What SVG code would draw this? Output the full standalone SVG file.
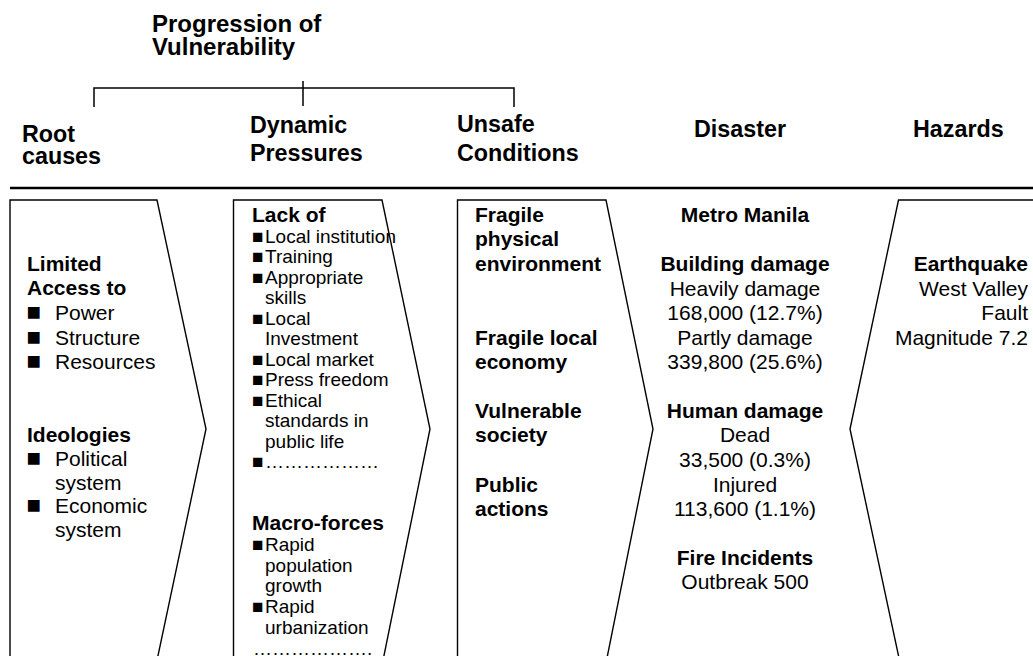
<svg xmlns="http://www.w3.org/2000/svg" width="1033" height="656" viewBox="0 0 1033 656">
<style>
  text { font-family: "Liberation Sans", Arial, sans-serif; fill: #000; }
  .title { font-size: 24px; font-weight: bold; }
  .hdr { font-size: 23.3px; font-weight: bold; }
  .b { font-size: 21px; font-weight: bold; }
  .r { font-size: 21px; }
  .s { font-size: 19px; }
  .sb { font-size: 21px; font-weight: bold; }
  .bul1 { font-size: 24px; }
  .shape { fill: #fff; stroke: #000; stroke-width: 1.4; stroke-linejoin: miter; }
  .line { fill: none; stroke: #000; stroke-width: 1.5; }
  .c { text-anchor: middle; }
  .e { text-anchor: end; }
</style>

<rect width="1033" height="656" fill="#fff"/>

<g id="title">
  <text class="title" x="152" y="32">Progression of</text>
  <text class="title" x="152" y="55">Vulnerability</text>
</g>

<g id="connectors">
  <path class="line" d="M94,107 V88 H514 V107"/>
  <path class="line" d="M303,81 V106"/>
  <path d="M10,188 H1033" fill="none" stroke="#000" stroke-width="2.5"/>
</g>

<g id="headers">
  <text class="hdr" x="22" y="141.5">Root</text>
  <text class="hdr" x="22" y="164">causes</text>
  <text class="hdr" x="250" y="133">Dynamic</text>
  <text class="hdr" x="250" y="161">Pressures</text>
  <text class="hdr" x="457" y="132">Unsafe</text>
  <text class="hdr" x="457" y="161">Conditions</text>
  <text class="hdr" x="694" y="137">Disaster</text>
  <text class="hdr" x="913" y="137">Hazards</text>
</g>

<g id="root-causes">
  <polygon class="shape" points="10,200 157,200 206,429 157.5,658 10,658"/>
  <text class="b" x="27" y="271">Limited</text>
  <text class="b" x="27" y="295">Access to</text>
  <text class="r" y="320"><tspan class="bul1" x="26.5">■</tspan><tspan x="55">Power</tspan></text>
  <text class="r" y="344.5"><tspan class="bul1" x="26.5">■</tspan><tspan x="55">Structure</tspan></text>
  <text class="r" y="369"><tspan class="bul1" x="26.5">■</tspan><tspan x="55">Resources</tspan></text>
  <text class="b" x="27" y="442">Ideologies</text>
  <text class="r" y="466"><tspan class="bul1" x="26.5">■</tspan><tspan x="55">Political</tspan></text>
  <text class="r" x="55" y="489.5">system</text>
  <text class="r" y="513"><tspan class="bul1" x="26.5">■</tspan><tspan x="55">Economic</tspan></text>
  <text class="r" x="55" y="536.5">system</text>
</g>

<g id="dynamic-pressures">
  <polygon class="shape" points="233.5,200 382,200 430,429 383.5,658 233.5,658"/>
  <text class="sb" x="252" y="222">Lack of</text>
  <text class="s" y="242.5"><tspan x="252">■</tspan><tspan x="265">Local institution</tspan></text>
  <text class="s" y="263"><tspan x="252">■</tspan><tspan x="265">Training</tspan></text>
  <text class="s" y="283.5"><tspan x="252">■</tspan><tspan x="265">Appropriate</tspan></text>
  <text class="s" x="265" y="304">skills</text>
  <text class="s" y="324.5"><tspan x="252">■</tspan><tspan x="265">Local</tspan></text>
  <text class="s" x="265" y="345">Investment</text>
  <text class="s" y="365.5"><tspan x="252">■</tspan><tspan x="265">Local market</tspan></text>
  <text class="s" y="386"><tspan x="252">■</tspan><tspan x="265">Press freedom</tspan></text>
  <text class="s" y="406.5"><tspan x="252">■</tspan><tspan x="265">Ethical</tspan></text>
  <text class="s" x="265" y="427">standards in</text>
  <text class="s" x="265" y="447.5">public life</text>
  <text class="s" y="468"><tspan x="252">■</tspan><tspan x="265">………………</tspan></text>
  <text class="sb" x="252" y="530">Macro-forces</text>
  <text class="s" y="551"><tspan x="252">■</tspan><tspan x="265">Rapid</tspan></text>
  <text class="s" x="265" y="571.5">population</text>
  <text class="s" x="265" y="592">growth</text>
  <text class="s" y="613"><tspan x="252">■</tspan><tspan x="265">Rapid</tspan></text>
  <text class="s" x="265" y="634">urbanization</text>
  <text class="s" x="253" y="654.5">……………….</text>
</g>

<g id="unsafe-conditions">
  <polygon class="shape" points="457.5,200 606,200 653,429 607,658 457.5,658"/>
  <text class="b" x="475" y="221.5">Fragile</text>
  <text class="b" x="475" y="246">physical</text>
  <text class="b" x="475" y="270.5">environment</text>
  <text class="b" x="475" y="345">Fragile local</text>
  <text class="b" x="475" y="369">economy</text>
  <text class="b" x="475" y="418">Vulnerable</text>
  <text class="b" x="475" y="442">society</text>
  <text class="b" x="475" y="492">Public</text>
  <text class="b" x="475" y="516">actions</text>
</g>

<g id="disaster">
  <text class="b c" x="745" y="221.5">Metro Manila</text>
  <text class="b c" x="745" y="271">Building damage</text>
  <text class="r c" x="745" y="296">Heavily damage</text>
  <text class="r c" x="745" y="320">168,000 (12.7%)</text>
  <text class="r c" x="745" y="345">Partly damage</text>
  <text class="r c" x="745" y="369">339,800 (25.6%)</text>
  <text class="b c" x="745" y="417.5">Human damage</text>
  <text class="r c" x="745" y="442">Dead</text>
  <text class="r c" x="745" y="466.5">33,500 (0.3%)</text>
  <text class="r c" x="745" y="491.5">Injured</text>
  <text class="r c" x="745" y="515.5">113,600 (1.1%)</text>
  <text class="b c" x="745" y="565">Fire Incidents</text>
  <text class="r c" x="745" y="589">Outbreak 500</text>
</g>

<g id="hazards">
  <polygon class="shape" points="1040,200 898.5,200 850,429 899,658 1040,658"/>
  <text class="b e" x="1028" y="271">Earthquake</text>
  <text class="r e" x="1028" y="296">West Valley</text>
  <text class="r e" x="1028" y="320">Fault</text>
  <text class="r e" x="1028" y="345">Magnitude 7.2</text>
</g>
</svg>
